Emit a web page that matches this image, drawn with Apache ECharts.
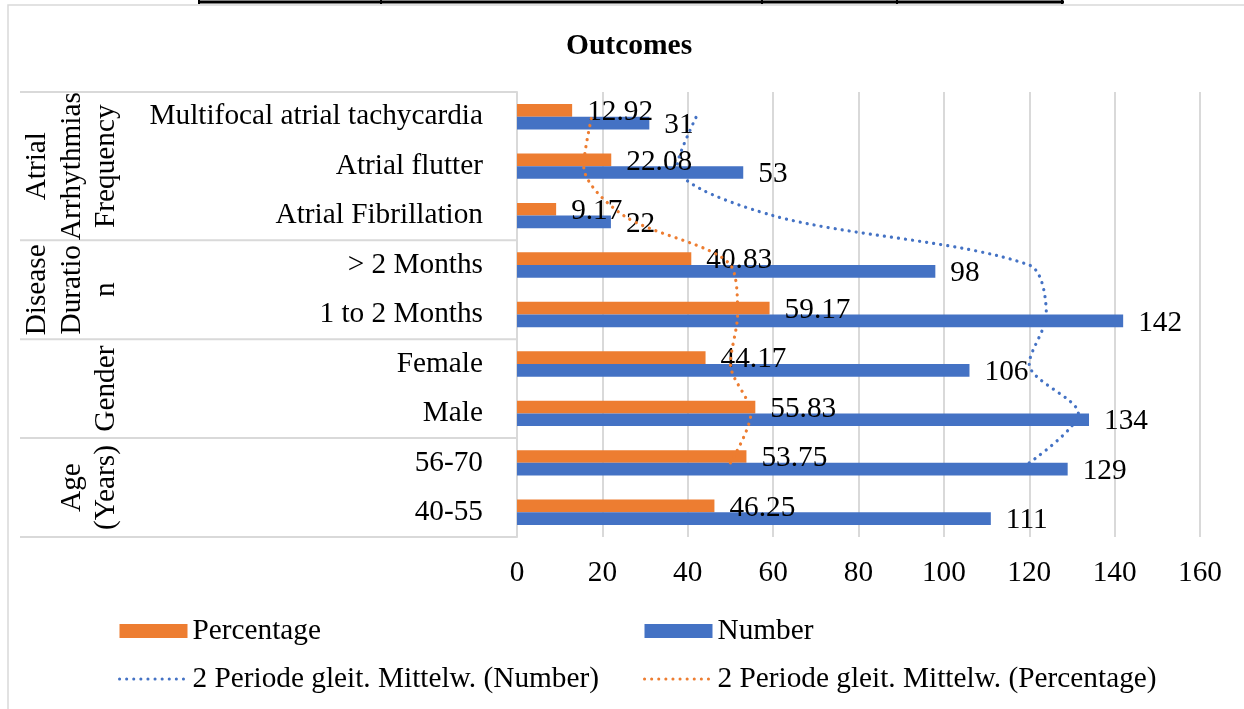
<!DOCTYPE html>
<html>
<head>
<meta charset="utf-8">
<title>Outcomes</title>
<script src="https://cdn.jsdelivr.net/npm/echarts@6/dist/echarts.min.js"></script>
<style>
html,body{margin:0;padding:0;background:#fff;}
#chart1{width:1244px;height:709px;}
</style>
</head>
<body>
<div id="chart1"></div>
<script>
// categories from bottom to top
var categories = ['40-55','56-70','Male','Female','1 to 2 Months','> 2 Months','Atrial Fibrillation','Atrial flutter','Multifocal atrial tachycardia'];
var percentData = [46.25,53.75,55.83,44.17,59.17,40.83,9.17,22.08,12.92];
var numberData = [111,129,134,106,142,98,22,53,31];
// 2 period moving average lines (no point on first category)
var numberAvg = ['-',120,131.5,120,124,120,60,37.5,42];
var percentAvg = ['-',50,54.79,50,51.67,50,25,15.63,17.5];
// outer level of the category axis
var groupNames = ['Age\n(Years)','Gender','Disease\nDuratio\nn','Atrial\nArrhythmias\nFrequency'];
var groupFirst = [0,2,4,6];
var groupLast = [1,3,5,8];
var xMin = 0, xMax = 160, xStep = 20;

var font = "'Liberation Serif','Times New Roman',serif";
var fs = 29.3;

function initChart(elem){
	var myChart = echarts.init(document.getElementById(elem));
	var barLabel = {
		show: true,
		position: 'right',
		distance: 15,
		offset: [0, 2],
		fontSize: fs,
		fontFamily: font,
		color: '#000'
	};
	var legendText = {fontSize: fs, fontFamily: font, color: '#000', lineHeight: 32};
	var dots = {width: 3, type: [0.1, 7], cap: 'round'};
	option = {
		animation: false,
		title: {
			text: 'Outcomes',
			left: 566,
			top: 31,
			padding: 0,
			textStyle: {fontFamily: font, fontSize: 29.5, fontWeight: 'bold', color: '#000'}
		},
		legend: [
			{
				left: 113, top: 610, orient: 'vertical',
				itemWidth: 68, itemHeight: 14, itemGap: 16,
				data: [
					{name: 'Percentage', icon: 'rect'},
					{name: '2 Periode gleit. Mittelw. (Number)', itemStyle: {opacity: 0}, lineStyle: dots}
				],
				textStyle: legendText
			},
			{
				left: 638, top: 610, orient: 'vertical',
				itemWidth: 68, itemHeight: 14, itemGap: 16,
				data: [
					{name: 'Number', icon: 'rect'},
					{name: '2 Periode gleit. Mittelw. (Percentage)', itemStyle: {opacity: 0}, lineStyle: dots}
				],
				textStyle: legendText
			}
		],
		grid: {left: 517, right: 44, top: 92, bottom: 172},
		xAxis: {
			type: 'value',
			min: xMin, max: xMax, interval: xStep,
			axisLine: {show: false},
			axisTick: {show: false},
			splitLine: {lineStyle: {color: '#d9d9d9', width: 2}},
			axisLabel: {fontSize: fs, fontFamily: font, color: '#000', margin: 22}
		},
		yAxis: {
			type: 'category',
			data: categories,
			axisLine: {lineStyle: {color: '#d9d9d9', width: 2}},
			axisTick: {show: false},
			axisLabel: {fontSize: fs, fontFamily: font, color: '#000', margin: 34, padding: [6, 0, 0, 0]}
		},
		series: [
			{
				name: 'Percentage', type: 'bar', data: percentData,
				barWidth: 12.7, barGap: '0%',
				itemStyle: {color: '#ED7D31'},
				label: barLabel
			},
			{
				name: 'Number', type: 'bar', data: numberData,
				barWidth: 12.7, barGap: '0%',
				itemStyle: {color: '#4472C4'},
				label: barLabel
			},
			{
				name: '2 Periode gleit. Mittelw. (Number)', type: 'line', data: numberAvg,
				symbol: 'none', smooth: 0.3, z: 5,
				itemStyle: {color: '#4472C4'},
				lineStyle: {color: '#4472C4', width: 3.2, type: [0.1, 7], cap: 'round'}
			},
			{
				name: '2 Periode gleit. Mittelw. (Percentage)', type: 'line', data: percentAvg,
				symbol: 'none', smooth: 0.3, z: 5,
				itemStyle: {color: '#ED7D31'},
				lineStyle: {color: '#ED7D31', width: 3.2, type: [0.1, 7], cap: 'round'}
			}
		]
	};
	myChart.setOption(option);

	// group boxes and rotated group names on the left
	function catY(i){
		return myChart.convertToPixel({yAxisIndex: 0}, categories[i]);
	}
	var band = catY(0) - catY(1);
	var plotLeft = myChart.convertToPixel({xAxisIndex: 0}, xMin);
	var graphics = [];
	var sepStyle = {stroke: '#d9d9d9', lineWidth: 2};
	graphics.push({type: 'line', shape: {x1: 20, y1: catY(0) + band / 2, x2: plotLeft, y2: catY(0) + band / 2}, style: sepStyle});
	for(var g=0;g<groupNames.length;g++){
		var yTop = catY(groupLast[g]) - band / 2;
		graphics.push({type: 'line', shape: {x1: 20, y1: yTop, x2: plotLeft, y2: yTop}, style: sepStyle});
		graphics.push({
			type: 'text',
			x: 124,
			y: (catY(groupFirst[g]) + catY(groupLast[g])) / 2,
			rotation: Math.PI / 2,
			style: {
				text: groupNames[g],
				fontSize: fs, fontFamily: font, fill: '#000',
				align: 'center', verticalAlign: 'bottom', lineHeight: 34.5
			}
		});
	}
	// chart frame and the table edge above it
	graphics.push({type: 'rect', shape: {x: 8, y: 5, width: 1250, height: 720}, style: {fill: 'none', stroke: '#d9d9d9', lineWidth: 1.5}});
	graphics.push({type: 'line', shape: {x1: 198, y1: 2, x2: 1064, y2: 2}, style: {stroke: '#000', lineWidth: 3}});
	var tableCols = [199, 381, 762, 897, 1062];
	for(var c=0;c<tableCols.length;c++){
		graphics.push({type: 'line', shape: {x1: tableCols[c], y1: 0, x2: tableCols[c], y2: 4}, style: {stroke: '#000', lineWidth: 2}});
	}
	myChart.setOption({graphic: graphics});
}

initChart("chart1");
</script>
</body>
</html>
